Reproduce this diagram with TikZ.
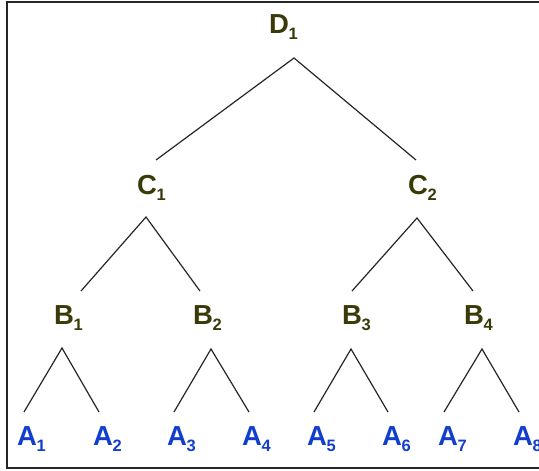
\documentclass[tikz,border=0pt]{standalone}
\usepackage{fontspec}
\setmainfont{Liberation Sans}
\definecolor{olive}{RGB}{58,58,8}
\definecolor{ablue}{RGB}{18,62,206}
\newcommand\lbl[2]{#1\kern-0.5pt\raisebox{-6pt}{\fontsize{16.5}{16.5}\selectfont #2}}
\begin{document}
\begin{tikzpicture}[x=1pt,y=-1pt,
  lab/.style={anchor=base west,inner sep=0pt,font=\fontsize{27.5}{27.5}\selectfont\bfseries},
  upper/.style={lab,text=olive},
  leaf/.style={lab,text=ablue},
  edge/.style={line width=1.2pt,black!85,line join=miter}]
\useasboundingbox[fill=white] (0,0) rectangle (539,471);
\draw[line width=1.4pt,black!85] (7,2) rectangle (560,468);
% labels
\node[upper] (D1) at (269,33) {\lbl{D}{1}};
\node[upper] (C1) at (137,194) {\lbl{C}{1}};
\node[upper] (C2) at (408,194) {\lbl{C}{2}};
\node[upper] (B1) at (54,324) {\lbl{B}{1}};
\node[upper] (B2) at (193,324) {\lbl{B}{2}};
\node[upper] (B3) at (342,324) {\lbl{B}{3}};
\node[upper] (B4) at (464,324) {\lbl{B}{4}};
\node[leaf] (A1) at (17,445) {\lbl{A}{1}};
\node[leaf] (A2) at (93,445) {\lbl{A}{2}};
\node[leaf] (A3) at (167,445) {\lbl{A}{3}};
\node[leaf] (A4) at (242,445) {\lbl{A}{4}};
\node[leaf] (A5) at (307,445) {\lbl{A}{5}};
\node[leaf] (A6) at (382,445) {\lbl{A}{6}};
\node[leaf] (A7) at (438,445) {\lbl{A}{7}};
\node[leaf] (A8) at (513,445) {\lbl{A}{8}};
% connector points
\coordinate (dT) at (294,58);
\coordinate (c1U) at (156,160);
\coordinate (c2U) at (416,160);
\coordinate (c1T) at (146,217);
\coordinate (c2T) at (417,218);
\coordinate (b1U) at (81,291);
\coordinate (b2U) at (200,291);
\coordinate (b3U) at (352,291);
\coordinate (b4U) at (473,291);
\coordinate (b1T) at (62,348);
\coordinate (b2T) at (211,349);
\coordinate (b3T) at (351,349);
\coordinate (b4T) at (482,349);
\coordinate (a1U) at (24,412);
\coordinate (a2U) at (99,412);
\coordinate (a3U) at (174,412);
\coordinate (a4U) at (249,412);
\coordinate (a5U) at (314,412);
\coordinate (a6U) at (388,412);
\coordinate (a7U) at (444,412);
\coordinate (a8U) at (519,412);
% connectors
\draw[edge] (c1U) -- (dT) -- (c2U);
\draw[edge] (b1U) -- (c1T) -- (b2U);
\draw[edge] (b3U) -- (c2T) -- (b4U);
\draw[edge] (a1U) -- (b1T) -- (a2U);
\draw[edge] (a3U) -- (b2T) -- (a4U);
\draw[edge] (a5U) -- (b3T) -- (a6U);
\draw[edge] (a7U) -- (b4T) -- (a8U);
\end{tikzpicture}
\end{document}
